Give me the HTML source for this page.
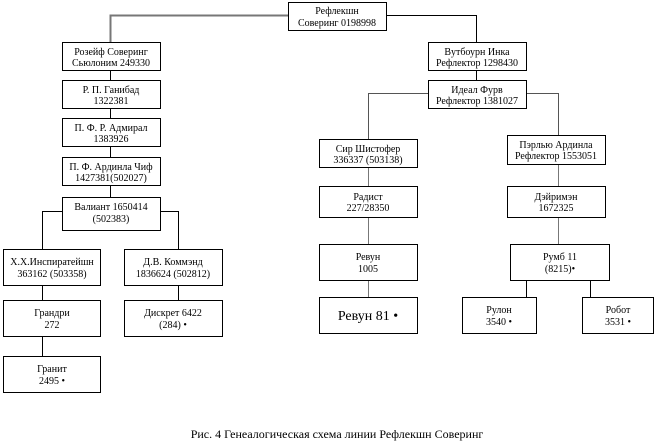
<!DOCTYPE html>
<html><head><meta charset="utf-8"><style>
html,body{margin:0;padding:0;background:#fff;}
svg{display:block;}
text{font-family:"Liberation Serif",serif;font-size:10px;fill:#000;}
</style></head><body>
<svg width="656" height="444" viewBox="0 0 656 444" xmlns="http://www.w3.org/2000/svg">
<g stroke="#000" stroke-width="1" fill="none">
<!-- connectors -->
<polyline points="288,15.5 110.5,15.5 110.5,42" stroke="#777" stroke-width="2"/>
<polyline points="387,15.5 476.5,15.5 476.5,42"/>
<line x1="110.5" y1="71" x2="110.5" y2="80"/>
<line x1="110.5" y1="109" x2="110.5" y2="118"/>
<line x1="110.5" y1="147" x2="110.5" y2="157"/>
<line x1="110.5" y1="186" x2="110.5" y2="197"/>
<polyline points="62,211.5 42.5,211.5 42.5,249"/>
<polyline points="161,211.5 178.5,211.5 178.5,249"/>
<line x1="42.5" y1="286" x2="42.5" y2="300"/>
<line x1="178.5" y1="286" x2="178.5" y2="300"/>
<line x1="42.5" y1="337" x2="42.5" y2="356"/>
<line x1="476.5" y1="71" x2="476.5" y2="80"/>
<polyline points="428,93.5 368.5,93.5 368.5,139" stroke="#555"/>
<polyline points="527,93.5 558.5,93.5 558.5,135" stroke="#555"/>
<line x1="368.5" y1="168" x2="368.5" y2="186" stroke="#777"/>
<line x1="368.5" y1="218" x2="368.5" y2="244" stroke="#777"/>
<line x1="368.5" y1="280" x2="368.5" y2="297" stroke="#777"/>
<line x1="558.5" y1="164" x2="558.5" y2="186" stroke="#777"/>
<line x1="558.5" y1="218" x2="558.5" y2="244" stroke="#777"/>
<line x1="526.5" y1="280" x2="526.5" y2="297"/>
<line x1="590.5" y1="280" x2="590.5" y2="297"/>
<!-- boxes -->
<rect x="288.5" y="2.5" width="98" height="28"/>
<rect x="62.5" y="42.5" width="98" height="28"/>
<rect x="62.5" y="80.5" width="98" height="28"/>
<rect x="62.5" y="118.5" width="98" height="28"/>
<rect x="62.5" y="157.5" width="98" height="28"/>
<rect x="62.5" y="197.5" width="98" height="33"/>
<rect x="3.5" y="249.5" width="97" height="36"/>
<rect x="124.5" y="249.5" width="98" height="36"/>
<rect x="3.5" y="300.5" width="97" height="36"/>
<rect x="124.5" y="300.5" width="98" height="36"/>
<rect x="3.5" y="356.5" width="97" height="36"/>
<rect x="428.5" y="42.5" width="98" height="28"/>
<rect x="428.5" y="80.5" width="98" height="28"/>
<rect x="319.5" y="139.5" width="98" height="28"/>
<rect x="507.5" y="135.5" width="98" height="29"/>
<rect x="319.5" y="186.5" width="98" height="31"/>
<rect x="507.5" y="186.5" width="98" height="31"/>
<rect x="319.5" y="244.5" width="98" height="36"/>
<rect x="510.5" y="244.5" width="99" height="36"/>
<rect x="319.5" y="297.5" width="98" height="36"/>
<rect x="462.5" y="297.5" width="74" height="36"/>
<rect x="582.5" y="297.5" width="71" height="36"/>
</g>
<g text-anchor="middle">
<text x="337" y="14">Рефлекшн</text><text x="337" y="26">Соверинг 0198998</text>
<text x="111" y="55">Розейф Соверинг</text><text x="111" y="66">Сьюлоним 249330</text>
<text x="111" y="93">Р. П. Ганибад</text><text x="111" y="104">1322381</text>
<text x="111" y="131">П. Ф. Р. Адмирал</text><text x="111" y="142">1383926</text>
<text x="111" y="170">П. Ф. Ардинла Чиф</text><text x="111" y="181">1427381(502027)</text>
<text x="111" y="210">Валиант 1650414</text><text x="111" y="222">(502383)</text>
<text x="52" y="265">Х.Х.Инспиратейшн</text><text x="52" y="277">363162 (503358)</text>
<text x="173" y="265">Д.В. Коммэнд</text><text x="173" y="277">1836624 (502812)</text>
<text x="52" y="316">Грандри</text><text x="52" y="328">272</text>
<text x="173" y="316">Дискрет 6422</text><text x="173" y="328">(284) •</text>
<text x="52" y="372">Гранит</text><text x="52" y="384">2495 •</text>
<text x="477" y="55">Вутбоурн Инка</text><text x="477" y="66">Рефлектор 1298430</text>
<text x="477" y="93">Идеал Фурв</text><text x="477" y="104">Рефлектор 1381027</text>
<text x="368" y="152">Сир Шистофер</text><text x="368" y="163">336337 (503138)</text>
<text x="556" y="148">Пэрлью Ардинла</text><text x="556" y="159">Рефлектор 1553051</text>
<text x="368" y="200">Радист</text><text x="368" y="211">227/28350</text>
<text x="556" y="200">Дэйримэн</text><text x="556" y="211">1672325</text>
<text x="368" y="260">Ревун</text><text x="368" y="272">1005</text>
<text x="560" y="260">Румб 11</text><text x="560" y="272">(8215)•</text>
<text x="368" y="320" style="font-size:14px">Ревун 81 •</text>
<text x="499" y="313">Рулон</text><text x="499" y="325">3540 •</text>
<text x="618" y="313">Робот</text><text x="618" y="325">3531 •</text>
<text x="337" y="438" style="font-size:12px">Рис. 4 Генеалогическая схема линии Рефлекшн Соверинг</text>
</g>
</svg>
</body></html>
